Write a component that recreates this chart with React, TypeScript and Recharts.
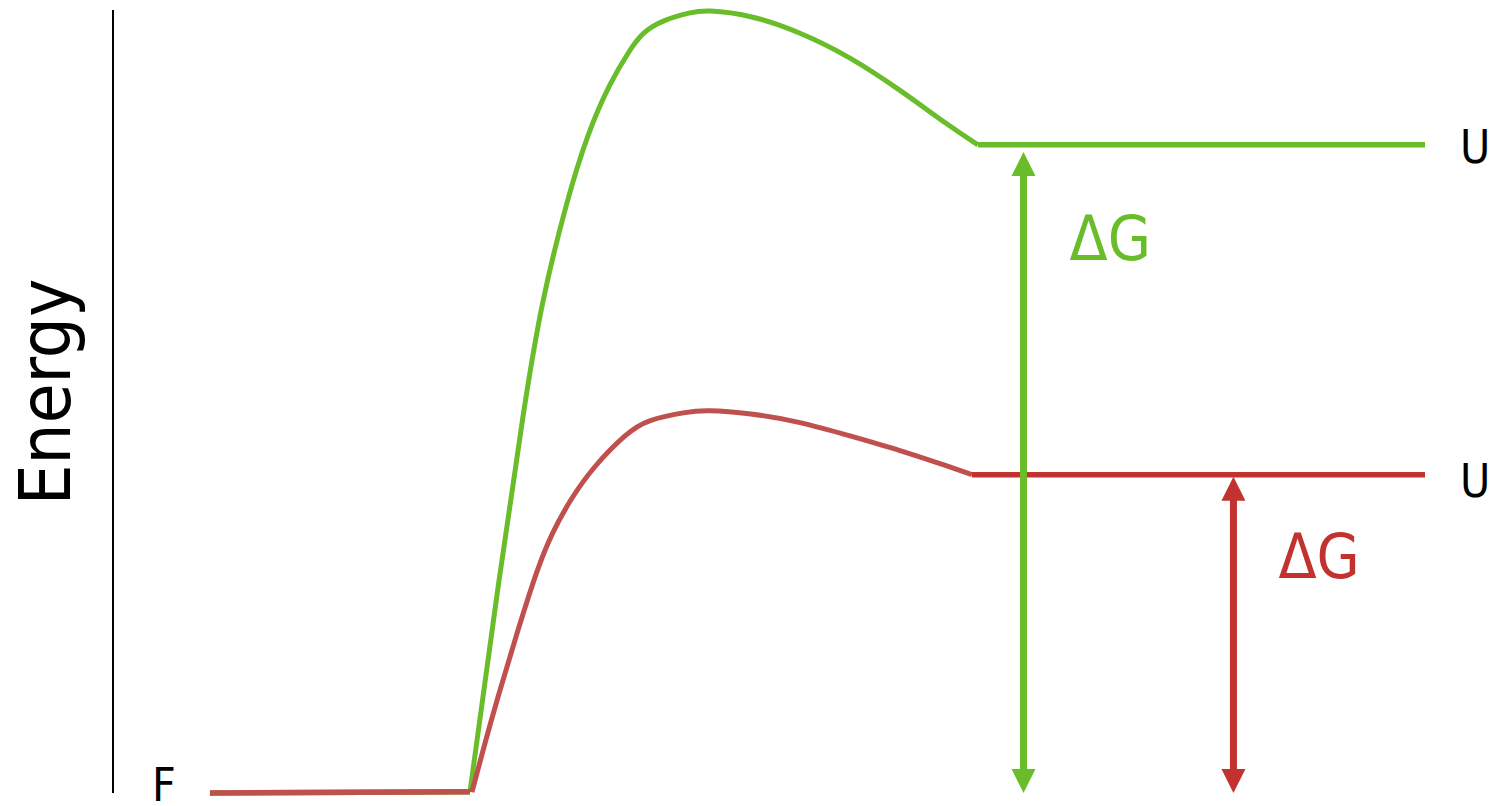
import { ComposedChart, Line, XAxis, YAxis, ReferenceLine, ReferenceDot } from "recharts";

// reaction coordinate (0..100) and energy (product level of uncatalysed path = 100)
const greenCurveX = [27.21, 29.19, 31.4, 32.7, 34.6, 36.2, 37.88, 39.41, 40.32, 41.92, 44.21, 45.12, 48.55, 52.36, 56.17, 59.98, 63.8, 65.93];
const greenCurveE = [0.15, 29.8, 60.6, 76.1, 91.5, 101.9, 109.6, 114.7, 117.3, 119.3, 120.5, 120.8, 120.1, 117.4, 113.6, 108.5, 102.8, 100];
const redCurveX = [27.36, 28.2, 29.27, 30.79, 32.39, 33.46, 34.83, 36.59, 39.18, 40.7, 43.75, 45.12, 48.55, 52.36, 56.17, 59.98, 63.8, 65.47];
const redCurveE = [0.15, 6.6, 14.4, 24.7, 34.9, 40.1, 45.2, 50.3, 55.6, 57.6, 58.8, 59.1, 58.6, 57.3, 55.1, 52.9, 50.3, 49.1];
const startX = [7.39, 27.21];
const startE = [0, 0.2];
const greenEndX = [65.93, 100];
const greenEndE = [100, 100];
const redEndX = [65.47, 100];
const redEndE = [49.1, 49.1];
// delta G arrows: x position, bottom, top
const greenArrow = { x: 69.4, from: 0, to: 98.9 };
const redArrow = { x: 85.4, from: 0, to: 48.8 };

const GREEN = "#6abd2a";
const RED_CURVE = "#c0504d";
const RED = "#c2322f";
const FONT = "'DejaVu Sans Condensed', 'DejaVu Sans', sans-serif";

const pts = (xs: number[], es: number[]) => xs.map((x, i) => ({ x, e: es[i] }));

const Arrow = (color: string) => (p: any) => {
  const cx = p.x1;
  const top = Math.min(p.y1, p.y2);
  const bottom = Math.max(p.y1, p.y2);
  const head = 24;
  const hw = 12;
  return (
    <g>
      <rect x={cx - 3.5} y={top + head - 2} width={7} height={bottom - top - 2 * head + 4} fill={color} />
      <polygon points={`${cx},${top} ${cx - hw},${top + head} ${cx + hw},${top + head}`} fill={color} />
      <polygon points={`${cx},${bottom} ${cx - hw},${bottom - head} ${cx + hw},${bottom - head}`} fill={color} />
    </g>
  );
};

const TextAt = (text: string, color: string, size: number, dx: number, dy: number) => (p: any) => (
  <text x={p.cx + dx} y={p.cy + dy} fill={color} fontSize={size} fontFamily={FONT}>
    {text}
  </text>
);

export default function App() {
  return (
    <div style={{ position: "absolute", left: 0, top: 0, background: "#fff" }}>
      <ComposedChart width={1494} height={806} margin={{ top: 10, right: 69, bottom: 13, left: 0 }}>
        <XAxis type="number" dataKey="x" domain={[0, 100]} hide />
        <YAxis
          type="number"
          dataKey="e"
          domain={[0, 120.8]}
          width={113}
          tick={false}
          tickLine={false}
          axisLine={{ stroke: "#000", strokeWidth: 2 }}
          label={{
            content: () => (
              <text x={70} y={392} transform="rotate(-90 70 392)" textAnchor="middle" fontSize={72} fontFamily={FONT} fill="#000">
                Energy
              </text>
            ),
          }}
        />
        <Line data={pts(startX, startE)} dataKey="e" type="linear" stroke={GREEN} strokeWidth={5.5} dot={false} isAnimationActive={false} />
        <Line data={pts(greenCurveX, greenCurveE)} dataKey="e" type="basis" stroke={GREEN} strokeWidth={5} dot={false} isAnimationActive={false} />
        <Line data={pts(greenEndX, greenEndE)} dataKey="e" type="linear" stroke={GREEN} strokeWidth={5.5} dot={false} isAnimationActive={false} />
        <Line data={pts(startX, startE)} dataKey="e" type="linear" stroke={RED_CURVE} strokeWidth={5.5} dot={false} isAnimationActive={false} />
        <Line data={pts(redCurveX, redCurveE)} dataKey="e" type="basis" stroke={RED_CURVE} strokeWidth={5} dot={false} isAnimationActive={false} />
        <Line data={pts(redEndX, redEndE)} dataKey="e" type="linear" stroke={RED} strokeWidth={5.5} dot={false} isAnimationActive={false} />
        <ReferenceLine segment={[{ x: greenArrow.x, y: greenArrow.from }, { x: greenArrow.x, y: greenArrow.to }]} shape={Arrow(GREEN)} />
        <ReferenceLine segment={[{ x: redArrow.x, y: redArrow.from }, { x: redArrow.x, y: redArrow.to }]} shape={Arrow(RED)} />
        <ReferenceDot x={greenArrow.x} y={100} r={0} shape={TextAt("ΔG", GREEN, 62, 46, 115)} />
        <ReferenceDot x={redArrow.x} y={49.1} r={0} shape={TextAt("ΔG", RED, 62, 45, 103)} />
        <ReferenceDot x={100} y={100} r={0} shape={TextAt("U", "#000", 46, 35, 18)} />
        <ReferenceDot x={100} y={49.1} r={0} shape={TextAt("U", "#000", 46, 35, 22)} />
        <ReferenceDot x={startX[0]} y={0} r={0} shape={TextAt("F", "#000", 46, -58, 8)} />
      </ComposedChart>
    </div>
  );
}
